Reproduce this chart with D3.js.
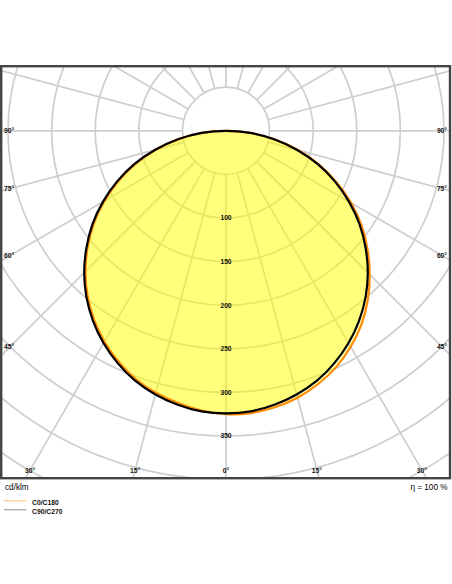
<!DOCTYPE html>
<html>
<head>
<meta charset="utf-8">
<script src="https://cdn.jsdelivr.net/npm/d3@7"></script>
<style>
html,body{margin:0;padding:0;background:#fff;}
svg{display:block;}
text{font-family:"Liberation Sans",Arial,sans-serif;}
</style>
</head>
<body>
<script>
// Gamma angles (degrees) and luminous intensities (cd/klm)
const gammas = [0,5,10,15,20,25,30,35,40,45,50,55,60,65,70,75,80,85,90];
const c0   = [325,325,322,317,309,299,286,271,253,233,212,190,166,140,114,86,57,29,0];
const c180 = [323,322,317,311,303,292,279,264,247,228,207,185,161,136,110,83,55,28,0];
const c90  = [324,323,319,313,305,294,281,266,249,230,209,187,163,138,112,84,56,28,0];
const c270 = [324,323,319,313,305,294,281,266,249,230,209,187,163,138,112,84,56,28,0];
const ringValues = [50,100,150,200,250,300,350,400,450,500,550];
const ringLabels = ["100","150","200","250","300","350"];
const angleTicks = [90,75,60,45];
const bottomTicks = [30,15,0];
const legendNames = ["C0/C180","C90/C270"];
const unitLabel = "cd/klm";
const effLabel = "η = 100 %";

const W = 452, H = 584;
const cx = 226, cy = 130.8;
const frame = {x0:1.2, y0:66.2, x1:450, y1:478.2};

const svg = d3.select("body").append("svg").attr("width", W).attr("height", H);
const r = d3.scaleLinear().domain([0, 50]).range([0, 43.6]);

svg.append("clipPath").attr("id","fc").append("rect")
  .attr("x",frame.x0).attr("y",frame.y0)
  .attr("width",frame.x1-frame.x0).attr("height",frame.y1-frame.y0);

const g = svg.append("g").attr("clip-path","url(#fc)");
const pg = g.append("g").attr("transform",`translate(${cx},${cy})`);

const gridCol = "#cecece";
// rings
pg.selectAll("circle.ring").data(ringValues).join("circle")
  .attr("class","ring").attr("r", d => r(d))
  .attr("fill","none").attr("stroke",gridCol).attr("stroke-width",1.7);
// radial lines every 15°
const radials = d3.range(0, 360, 15);
pg.selectAll("line.rad").data(radials).join("line")
  .attr("class","rad")
  .attr("x1", d => r(50)*Math.sin(d*Math.PI/180))
  .attr("y1", d => r(50)*Math.cos(d*Math.PI/180))
  .attr("x2", d => r(700)*Math.sin(d*Math.PI/180))
  .attr("y2", d => r(700)*Math.cos(d*Math.PI/180))
  .attr("stroke",gridCol).attr("stroke-width",1.7);

// build closed curves
function pts(right, left){
  const p = [];
  for (let i=0;i<gammas.length;i++) p.push([Math.PI - gammas[i]*Math.PI/180, r(right[i])]);
  for (let i=gammas.length-2;i>=1;i--) p.push([Math.PI + gammas[i]*Math.PI/180, r(left[i])]);
  return p;
}
const radial = d3.lineRadial().angle(d=>d[0]).radius(d=>d[1]).curve(d3.curveCatmullRomClosed);
const pA = pts(c0, c180), pB = pts(c90, c270);

pg.append("path").attr("d", radial(pA)).attr("fill","#ffff00").attr("fill-opacity",0.3);
pg.append("path").attr("d", radial(pB)).attr("fill","#ffff00").attr("fill-opacity",0.3);
pg.append("path").attr("d", radial(pA)).attr("fill","none").attr("stroke","#ff8a00").attr("stroke-width",2.2);
pg.append("path").attr("d", radial(pB)).attr("fill","none").attr("stroke","#000").attr("stroke-width",2.2);

// value labels
pg.selectAll("text.val").data(ringLabels).join("text")
  .attr("class","val").attr("x",0).attr("y", d => r(+d)+2.4)
  .attr("text-anchor","middle").attr("font-size",6.7).attr("font-weight","bold")
  .attr("fill","#111").text(d=>d);

// side angle labels
const lab = svg.append("g").attr("font-size",6.7).attr("font-weight","bold").attr("fill","#111");
angleTicks.forEach(a => {
  const t = Math.tan(a*Math.PI/180);
  const y = a === 90 ? cy : cy + (cx-10)/t;
  lab.append("text").attr("x",4).attr("y",y+2.6).text(a+"°");
  lab.append("text").attr("x",447).attr("y",y+2.6).attr("text-anchor","end").text(a+"°");
});
bottomTicks.forEach(a => {
  const dy = 470 - cy;
  const dx = dy*Math.tan(a*Math.PI/180);
  lab.append("text").attr("x",cx-dx).attr("y",472.5).attr("text-anchor","middle").text(a+"°");
  if (a !== 0) lab.append("text").attr("x",cx+dx).attr("y",472.5).attr("text-anchor","middle").text(a+"°");
});

// frame
svg.append("rect").attr("x",frame.x0).attr("y",frame.y0)
  .attr("width",frame.x1-frame.x0).attr("height",frame.y1-frame.y0)
  .attr("fill","none").attr("stroke","#444").attr("stroke-width",2.4);

// footer texts
svg.append("text").attr("x",5).attr("y",490).attr("font-size",8.2).attr("fill","#000").text(unitLabel);
svg.append("text").attr("x",447.5).attr("y",490).attr("font-size",8.2).attr("fill","#000")
  .attr("text-anchor","end").text(effLabel);

// legend
const legCols = ["#ffbe73","#8c8c8c"];
legendNames.forEach((n,i) => {
  const y = 500.8 + i*9;
  svg.append("line").attr("x1",4).attr("x2",26.5).attr("y1",y).attr("y2",y)
    .attr("stroke",legCols[i]).attr("stroke-width",1);
  svg.append("text").attr("x",32).attr("y",y+4).attr("font-size",6.8).attr("font-weight","bold")
    .attr("fill","#111").text(n);
});
</script>
</body>
</html>
